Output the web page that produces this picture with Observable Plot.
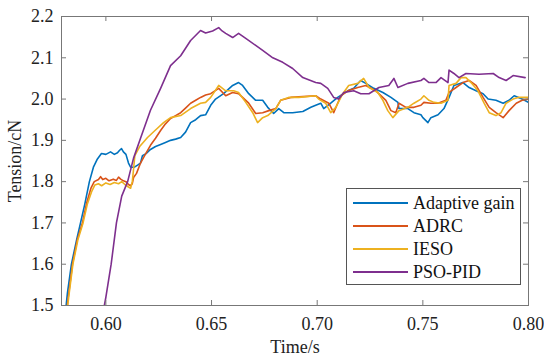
<!DOCTYPE html>
<html>
<head>
<meta charset="utf-8">
<script src="https://cdn.jsdelivr.net/npm/d3@7"></script>
<script src="https://cdn.jsdelivr.net/npm/@observablehq/plot@0.6"></script>
<style>
  body { margin: 0; background: #fff; }
  #wrap { position: relative; width: 544px; height: 357px; font-family: 'Liberation Serif', 'Times New Roman', serif; }
  #wrap svg text { font-family: 'Liberation Serif', 'Times New Roman', serif; }
  #legend { position: absolute; left: 346px; top: 188px; width: 173px; height: 95px; border: 1px solid #555; background: #fff; box-sizing: content-box; }
  .item { position: absolute; left: 6px; height: 22px; display: flex; align-items: center; font-size: 18px; color: #111; white-space: nowrap; font-family: 'Liberation Serif', 'Times New Roman', serif; }
  .item span.sw { display: inline-block; width: 55px; height: 2px; margin-right: 5px; }
</style>
</head>
<body>
<div id="wrap"></div>
<script>
// ---- data (time in s, tension in cN) ----
const seriesNames = ["Adaptive gain", "ADRC", "IESO", "PSO-PID"];
const seriesColors = ["#0072BD", "#D95319", "#EDB120", "#7E2F8E"];
const xTicks = [0.60, 0.65, 0.70, 0.75, 0.80];
const yTicks = [1.5, 1.6, 1.7, 1.8, 1.9, 2.0, 2.1, 2.2];
const xDomain = [0.579, 0.80];
const yDomain = [1.5, 2.2];

const adaptiveGain = [
[0.5808,1.48],[0.5818,1.53],[0.5837,1.60],[0.5862,1.66],[0.5880,1.70],[0.5900,1.745],[0.5922,1.80],
[0.5941,1.835],[0.5960,1.855],[0.5979,1.868],[0.6000,1.866],[0.6022,1.872],[0.6040,1.866],[0.6055,1.870],
[0.6065,1.876],[0.6074,1.880],[0.6083,1.872],[0.6095,1.866],[0.6107,1.845],[0.6117,1.835],[0.6135,1.835],
[0.6150,1.840],[0.6164,1.845],[0.6173,1.863],[0.6190,1.868],[0.6211,1.878],[0.6235,1.885],[0.6259,1.890],
[0.6282,1.895],[0.6306,1.900],[0.6330,1.903],[0.6354,1.907],[0.6377,1.920],[0.6401,1.943],[0.6425,1.950],
[0.6448,1.960],[0.6472,1.962],[0.6496,1.985],[0.6519,2.000],[0.6557,2.013],[0.6600,2.033],[0.6628,2.040],
[0.6647,2.033],[0.6676,2.013],[0.6709,1.997],[0.6742,1.997],[0.6766,1.980],[0.6794,1.965],[0.6818,1.977],
[0.6842,1.967],[0.6884,1.967],[0.6932,1.970],[0.6970,1.980],[0.6993,1.985],[0.7017,1.990],[0.7031,1.977],
[0.7064,1.990],[0.7097,2.004],[0.7145,2.020],[0.7173,2.026],[0.7206,2.045],[0.7230,2.038],[0.7268,2.026],
[0.7311,2.016],[0.7349,2.004],[0.7382,1.992],[0.7387,1.977],[0.7429,1.977],[0.7458,1.967],[0.7491,1.962],
[0.7500,1.955],[0.7524,1.943],[0.7538,1.955],[0.7572,1.962],[0.7600,1.977],[0.7624,2.004],[0.7647,2.033],
[0.7690,2.040],[0.7719,2.028],[0.7752,2.020],[0.7785,2.013],[0.7809,2.000],[0.7846,1.997],[0.7880,1.990],
[0.7908,1.997],[0.7932,2.008],[0.7970,2.000],[0.7999,1.992]
];

const adrc = [
[0.5813,1.48],[0.5822,1.52],[0.5842,1.60],[0.5865,1.66],[0.5889,1.70],[0.5910,1.75],[0.5930,1.785],
[0.5945,1.800],[0.5965,1.805],[0.5975,1.812],[0.5985,1.805],[0.6000,1.808],[0.6015,1.802],[0.6035,1.806],
[0.6050,1.803],[0.6060,1.811],[0.6070,1.806],[0.6083,1.802],[0.6095,1.800],[0.6107,1.793],[0.6117,1.790],
[0.6125,1.795],[0.6131,1.810],[0.6145,1.820],[0.6164,1.845],[0.6180,1.860],[0.6211,1.888],[0.6235,1.905],
[0.6259,1.924],[0.6282,1.940],[0.6306,1.953],[0.6330,1.960],[0.6354,1.967],[0.6377,1.978],[0.6401,1.990],
[0.6425,1.997],[0.6448,2.004],[0.6472,2.010],[0.6496,2.013],[0.6534,2.026],[0.6567,2.008],[0.6600,2.016],
[0.6628,2.013],[0.6676,1.990],[0.6709,1.965],[0.6742,1.967],[0.6771,1.972],[0.6804,1.977],[0.6827,1.997],
[0.6875,2.004],[0.6932,2.006],[0.6993,2.008],[0.7017,2.000],[0.7055,1.990],[0.7078,1.967],[0.7112,2.008],
[0.7145,2.020],[0.7192,2.028],[0.7230,2.033],[0.7278,2.020],[0.7325,1.997],[0.7349,1.972],[0.7372,1.967],
[0.7387,1.990],[0.7420,1.980],[0.7458,1.980],[0.7491,1.985],[0.7505,1.992],[0.7538,1.990],[0.7572,1.990],
[0.7609,1.997],[0.7624,2.016],[0.7657,2.028],[0.7690,2.040],[0.7719,2.045],[0.7752,2.033],[0.7785,2.004],
[0.7814,1.980],[0.7846,1.967],[0.7880,1.955],[0.7908,1.972],[0.7942,1.990],[0.7970,1.997],[0.7999,2.000]
];

const ieso = [
[0.5815,1.48],[0.5824,1.52],[0.5844,1.60],[0.5868,1.66],[0.5892,1.70],[0.5912,1.745],[0.5932,1.775],
[0.5948,1.792],[0.5965,1.795],[0.5980,1.790],[0.6000,1.797],[0.6020,1.793],[0.6040,1.798],[0.6060,1.795],
[0.6075,1.800],[0.6090,1.793],[0.6107,1.787],[0.6117,1.784],[0.6125,1.800],[0.6131,1.830],[0.6137,1.863],
[0.6160,1.885],[0.6197,1.907],[0.6235,1.925],[0.6273,1.943],[0.6306,1.955],[0.6354,1.960],[0.6401,1.977],
[0.6448,1.990],[0.6472,1.992],[0.6496,2.004],[0.6534,2.033],[0.6567,2.020],[0.6605,2.020],[0.6628,2.016],
[0.6662,1.992],[0.6695,1.967],[0.6718,1.943],[0.6742,1.955],[0.6766,1.960],[0.6804,1.977],[0.6827,1.997],
[0.6865,2.004],[0.6913,2.004],[0.6993,2.008],[0.7007,2.000],[0.7040,1.990],[0.7064,1.967],[0.7088,1.980],
[0.7121,2.013],[0.7149,2.033],[0.7192,2.038],[0.7220,2.050],[0.7245,2.028],[0.7287,2.016],[0.7311,1.997],
[0.7334,1.972],[0.7358,1.955],[0.7387,1.972],[0.7429,1.980],[0.7458,1.990],[0.7491,2.000],[0.7505,2.008],
[0.7529,1.997],[0.7553,1.992],[0.7586,1.990],[0.7619,1.997],[0.7624,2.033],[0.7657,2.038],[0.7681,2.052],
[0.7704,2.052],[0.7728,2.040],[0.7761,2.020],[0.7790,1.990],[0.7814,1.967],[0.7846,1.960],[0.7870,1.967],
[0.7894,1.990],[0.7927,2.000],[0.7951,2.004],[0.7999,2.004]
];

const psoPid = [
[0.5989,1.49],[0.6000,1.52],[0.6025,1.60],[0.6050,1.70],[0.6075,1.765],[0.6103,1.80],[0.6131,1.857],
[0.6164,1.905],[0.6211,1.973],[0.6259,2.026],[0.6306,2.081],[0.6354,2.105],[0.6401,2.142],[0.6448,2.166],
[0.6472,2.160],[0.6505,2.165],[0.6534,2.173],[0.6550,2.165],[0.6567,2.159],[0.6600,2.149],[0.6628,2.159],
[0.6662,2.147],[0.6709,2.130],[0.6742,2.118],[0.6790,2.100],[0.6837,2.089],[0.6884,2.074],[0.6932,2.052],
[0.6993,2.040],[0.7017,2.038],[0.7050,2.026],[0.7078,2.004],[0.7102,2.000],[0.7126,2.016],[0.7173,2.020],
[0.7206,2.013],[0.7245,2.013],[0.7292,2.028],[0.7339,2.033],[0.7363,2.050],[0.7382,2.028],[0.7429,2.038],
[0.7491,2.045],[0.7505,2.050],[0.7529,2.040],[0.7562,2.040],[0.7586,2.052],[0.7619,2.040],[0.7624,2.070],
[0.7647,2.062],[0.7671,2.052],[0.7704,2.062],[0.7766,2.060],[0.7833,2.062],[0.7861,2.052],[0.7894,2.045],
[0.7927,2.057],[0.7984,2.052]
];

const allSeries = [adaptiveGain, adrc, ieso, psoPid];
const axisGray = "#777";
const serif = "'Liberation Serif', 'Times New Roman', serif";
const frameW = 467, frameH = 289, tickPx = 5;
const tlx = (xDomain[1] - xDomain[0]) * tickPx / frameW;
const tly = (yDomain[1] - yDomain[0]) * tickPx / frameH;

const lineMarks = allSeries.map((s, i) =>
  Plot.line(s, {x: d => d[0], y: d => d[1], stroke: seriesColors[i], strokeWidth: 1.6, clip: true})
);

const chart = Plot.plot({
  width: 544, height: 357,
  marginLeft: 61, marginRight: 16, marginTop: 16, marginBottom: 52,
  style: {fontFamily: serif, fontSize: "18px", color: "#222", background: "#fff"},
  x: {domain: xDomain},
  y: {domain: yDomain},
  marks: [
    ...lineMarks,
    Plot.frame({stroke: axisGray, strokeWidth: 1}),
    Plot.ruleX(xTicks, {y1: yDomain[0], y2: yDomain[0] + tly, stroke: axisGray}),
    Plot.ruleX(xTicks, {y1: yDomain[1] - tly, y2: yDomain[1], stroke: axisGray}),
    Plot.ruleY(yTicks, {x1: xDomain[0], x2: xDomain[0] + tlx, stroke: axisGray}),
    Plot.ruleY(yTicks, {x1: xDomain[1] - tlx, x2: xDomain[1], stroke: axisGray}),
    Plot.axisX(xTicks, {tickSize: 0, tickPadding: 12, tickFormat: d3.format(".2f"), label: null, fontSize: 18, fontFamily: serif}),
    Plot.axisY(yTicks, {tickSize: 0, tickPadding: 8, tickFormat: d3.format(".1f"), label: null, fontSize: 18, fontFamily: serif}),
    Plot.text(["Time/s"], {frameAnchor: "bottom", lineAnchor: "middle", textAnchor: "middle", dy: 42, fontSize: 18, fontFamily: serif, fill: "#222"}),
    Plot.text(["Tension/cN"], {frameAnchor: "left", textAnchor: "middle", lineAnchor: "middle", dx: -46, rotate: -90, fontSize: 18, fontFamily: serif, fill: "#222"})
  ]
});

const wrap = document.getElementById("wrap");
wrap.appendChild(chart);

const legend = document.createElement("div");
legend.id = "legend";
seriesNames.forEach((name, i) => {
  const it = document.createElement("div");
  it.className = "item";
  it.style.top = (3 + i * 23) + "px";
  const sw = document.createElement("span");
  sw.className = "sw";
  sw.style.background = seriesColors[i];
  it.appendChild(sw);
  it.appendChild(document.createTextNode(name));
  legend.appendChild(it);
});
wrap.appendChild(legend);
</script>
</body>
</html>
